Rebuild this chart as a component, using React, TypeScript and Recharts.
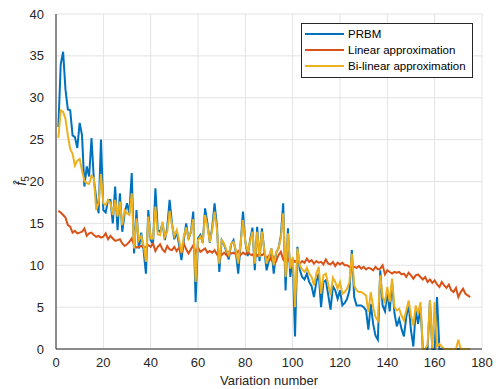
import { LineChart, Line, XAxis, YAxis, CartesianGrid } from 'recharts';

const prbm = [
  26.5, 34, 35.5, 31, 28.6, 28.5, 25.5, 25.3, 24, 27,
  25.5, 19.4, 21.8, 20.6, 25.2, 20.2, 18, 16.2, 25, 16.6,
  16.3, 17.8, 17.8, 15, 19.4, 14.2, 18.6, 14, 16.2, 17.4,
  16.2, 21, 11.4, 16.6, 12, 13.9, 11.8, 9, 16.6, 13,
  12.5, 19.2, 14.2, 14, 15, 13, 14.5, 17.8, 15, 13.1,
  14, 12.5, 10.6, 13, 15, 13.1, 14, 16.4, 5.6, 13.2,
  13.6, 12.7, 16.8, 15, 12.7, 14.5, 17.4, 14.7, 9.2, 13,
  12.5, 11.6, 10.7, 12.5, 13, 11.5, 9, 12.5, 16.4, 12.8,
  11.1, 13, 14.5, 9.4, 14.6, 10.5, 14.4, 11.8, 9.4, 10.6,
  12, 9, 11.5, 12, 13.5, 17.4, 7, 14.4, 8.6, 10.8,
  1.5, 12.2, 9.5, 8.6, 8.3, 9, 8, 7.5, 6.2, 8,
  9, 5, 8, 8.2, 6.5, 4.7, 7.5, 7, 6, 7,
  5.2, 5.5, 6, 7, 11.8, 6.2, 5.2, 5.2, 5.2, 5,
  4.6, 2.3, 5.4, 3, 1.6, 1.1, 9.4, 5.2, 4.5, 6.8,
  4.5, 8, 4.3, 2.7, 3.6, 2.4, 1.5, 3.8, 5.3, 2.2,
  0.3, 4.6, 3, 5, 0, 0, 0, 5.8, 0, 0,
  6.2, 0, 0, 0, 0, 0, 0, 0, 0, 0,
  0, 0, 0, 0, 0,
];

const linear = [
  16.5, 16.3, 16, 15.7, 14.8, 14.6, 13.9, 14.1, 13.8, 13.9,
  14, 14.4, 13.5, 13.8, 13.9, 13.6, 13.4, 13.5, 13.3, 13.4,
  13.8, 13.1, 13.5, 13.2, 12.9, 13, 13.1, 12.6, 12.3, 12.5,
  12.8, 13.2, 12.4, 12.1, 12.2, 12.3, 12.1, 12.2, 12.4, 12.2,
  12.6, 11.7, 12.2, 12.5, 11.9, 11.6, 12.3, 11.9, 11.8, 12.2,
  11.7, 12.1, 11.5, 12.6, 11.9, 11.4, 11.9, 12.4, 11.5, 12.1,
  11.6, 11.8, 12, 11.5, 11.7, 11.5, 11.8, 11.3, 11.6, 11.2,
  11.5, 11.2, 11.6, 11.4, 11.5, 11.3, 11.7, 11.2, 11.5, 11.3,
  11.6, 11.3, 11.2, 11.6, 11.1, 11.4, 11.2, 11.4, 10.8, 11.2,
  10.6, 11, 10.5, 11.2, 11.6, 10.7, 10.4, 10.8, 10.3, 10.7,
  10.4, 10.6, 10.2, 10.5, 10.3, 10.8, 10.4, 10.6, 10.2, 10.5,
  10.3, 10.4, 10.1, 10.7, 10.2, 10.1, 10.4, 9.9, 10.3, 10.1,
  10.3, 10, 10, 9.8, 9.9, 9.8, 9.7, 9.9, 9.6, 9.8,
  9.5, 9.7, 9.6, 9.4, 9.8, 9.5, 9.6, 10, 8.9, 9.4,
  9.2, 9, 9.2, 9.1, 9.2, 8.9, 9, 8.6, 9.1, 8.8,
  8.4, 8.8, 8.9, 8.6, 8.3, 8.6, 8, 8.3, 7.9, 8.2,
  7.7, 7.4, 8, 7.6, 7.3, 7.7, 7, 6.8, 7.3, 6.2,
  6.8, 7.2, 6.6, 6.4, 6.2,
];

const bilinear = [
  25.2, 28.5, 28.3, 27.5, 25.5, 23.9, 23.3, 21.9, 22.5, 22.7,
  21.3, 20.1, 19.8, 19.7, 20.7, 20.4, 16.6, 17.5, 20.9, 17.4,
  17.2, 17.8, 17.4, 16, 17.8, 15.8, 17.6, 14.8, 16.6, 16.2,
  16, 18.6, 12, 15.6, 13, 13.5, 12.4, 10.4, 15.8, 13.2,
  13.2, 17, 13.7, 13.6, 15.2, 13.4, 14, 16.5, 14.8, 13.5,
  14.2, 13, 11.5, 13.4, 14.5, 13.2, 14, 15.5, 8, 13,
  13.4, 12.8, 16, 14.6, 12.8, 14.2, 16.4, 14.3, 10.2, 13,
  12.6, 11.8, 11.2, 12.6, 12.8, 11.8, 10.2, 12.6, 15.4, 12.8,
  11.6, 12.8, 14, 10.2, 14, 11, 14, 11.9, 10.2, 11,
  12, 10, 11.5, 12, 13.2, 16.2, 8.6, 13.8, 9.6, 11,
  5, 12, 10, 9.5, 9.2, 9.7, 9, 8.6, 7.6, 9,
  9.8, 6.6, 8.8, 9, 7.8, 6.4, 8.5, 8, 7.2, 8,
  6.6, 6.8, 7.2, 8, 11.4, 7.6, 7, 6.8, 6.8, 6.6,
  6.4, 4.4, 6.8, 5, 3.8, 3.4, 8.8, 6.2, 5.6, 7.4,
  5.6, 8.4, 5, 4.6, 4.8, 4, 3.4, 4.6, 5.8, 4,
  2.8, 5.2, 4.2, 5.6, 0, 0, 0.5, 5.8, 0, 5.6,
  0.3, 0.6, 0.3, 0, 0, 0, 0, 0, 0, 1.1,
  0, 0, 0, 0, 0,
];

const xTicks = [0, 20, 40, 60, 80, 100, 120, 140, 160, 180];
const yTicks = [0, 5, 10, 15, 20, 25, 30, 35, 40];

const seriesNames = ['PRBM', 'Linear approximation', 'Bi-linear approximation'];
const seriesColors = ['#0072BD', '#D95319', '#EDB120'];

const data = prbm.map((v, i) => ({
  x: i + 1,
  prbm: v,
  linear: linear[i],
  bilinear: bilinear[i],
}));

const FONT = 'Helvetica, Arial, "Liberation Sans", sans-serif';
const TEXT = '#262626';

// rotated y label: italic f with a hat, subscript 5
const YLabel = () => (
  <text
    x={26}
    y={181}
    transform="rotate(-90, 26, 181)"
    textAnchor="middle"
    fill={TEXT}
    fontFamily={FONT}
    fontSize={14}
  >
    <tspan fontStyle="italic">{'f\u0302'}</tspan>
    <tspan fontSize={10} dy={3}>5</tspan>
  </text>
);

// legend drawn over the chart, top-right, like MATLAB's 'northeast'
const LegendBox = () => (
  <div
    style={{
      position: 'absolute',
      left: 301,
      top: 23,
      width: 163,
      border: '1px solid #262626',
      background: '#fff',
      padding: '2px 4px 3px 3px',
      fontFamily: FONT,
      fontSize: 11.5,
      color: '#000',
      whiteSpace: 'nowrap',
    }}
  >
    {seriesNames.map((name, i) => (
      <div key={name} style={{ display: 'flex', alignItems: 'center', height: 16 }}>
        <span style={{ width: 39, height: 2, background: seriesColors[i], marginRight: 4, flex: 'none' }} />
        <span>{name}</span>
      </div>
    ))}
  </div>
);

export default function App() {
  return (
    <div style={{ position: 'absolute', left: 0, top: 0, width: 499, height: 389, background: '#fff' }}>
      <LineChart width={499} height={389} data={data} margin={{ top: 14, right: 17, bottom: 0, left: 0 }}>
        <CartesianGrid stroke="#e3e3e3" strokeWidth={1} />
        <XAxis
          dataKey="x"
          type="number"
          domain={[0, 180]}
          ticks={xTicks}
          interval={0}
          tickLine={false}
          axisLine={{ stroke: '#262626' }}
          tick={{ fill: TEXT, fontSize: 13, fontFamily: FONT }}
          tickMargin={3}
          height={40}
          label={{ value: 'Variation number', position: 'insideBottom', offset: 4, fill: TEXT, fontSize: 13, fontFamily: FONT }}
        />
        <YAxis
          type="number"
          domain={[0, 40]}
          ticks={yTicks}
          interval={0}
          tickLine={false}
          axisLine={{ stroke: '#262626' }}
          tick={{ fill: TEXT, fontSize: 13, fontFamily: FONT }}
          tickMargin={6}
          width={56}
          label={<YLabel />}
        />
        <Line dataKey="prbm" name={seriesNames[0]} stroke={seriesColors[0]} strokeWidth={2} dot={false} isAnimationActive={false} />
        <Line dataKey="linear" name={seriesNames[1]} stroke={seriesColors[1]} strokeWidth={2} dot={false} isAnimationActive={false} />
        <Line dataKey="bilinear" name={seriesNames[2]} stroke={seriesColors[2]} strokeWidth={2} dot={false} isAnimationActive={false} />
      </LineChart>
      <LegendBox />
    </div>
  );
}
